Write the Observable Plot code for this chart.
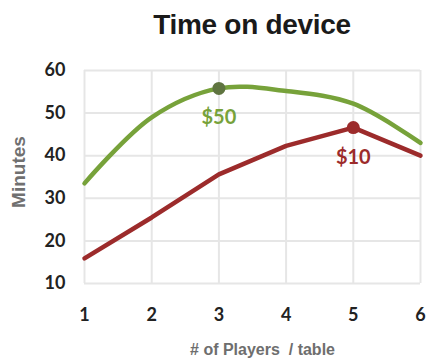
<!DOCTYPE html>
<html><head><meta charset="utf-8">
<script src="https://cdn.jsdelivr.net/npm/d3@7"></script>
<script src="https://cdn.jsdelivr.net/npm/@observablehq/plot@0.6"></script>
<style>
body{margin:0;background:#fff;}
#title{position:relative;height:55px;width:427px;}
#title div{position:absolute;left:84px;width:336px;top:9px;text-align:center;font:bold 28px "Liberation Sans",Arial,sans-serif;color:#1a1a1a;letter-spacing:-0.3px;}
</style></head>
<body>
<div id="title"><div>Time on device</div></div>
<div id="chart"></div>
<script>
const players = [1, 2, 3, 4, 5, 6];
const minutes50 = [33.5, 49, 55.8, 55.2, 52.2, 43];
const minutes10 = [15.9, 25.5, 35.6, 42.3, 46.6, 40];
const yTicks = [10, 20, 30, 40, 50, 60];
const labels = [
  {x: 3, y: 49, text: "$50", series: "$50"},
  {x: 5, y: 39.6, text: "$10", series: "$10"}
];
const highlights = [
  {x: 3, y: 55.8, series: "$50"},
  {x: 5, y: 46.6, series: "$10"}
];
const colors = {"$50": "#77a23a", "$10": "#9c2b2b"};
const markerColors = {"$50": "#5f7440", "$10": "#9c2b2b"};

const d50 = players.map((p, i) => ({x: p, y: minutes50[i]}));
const d10 = players.map((p, i) => ({x: p, y: minutes10[i]}));

const chart = Plot.plot({
  width: 427,
  height: 306,
  marginLeft: 84,
  marginRight: 7,
  marginTop: 15,
  marginBottom: 78,
  style: {fontFamily: "Lato, sans-serif", background: "#fff", overflow: "visible"},
  x: {domain: [1, 6], label: null},
  y: {domain: [10, 60], label: null},
  marks: [
    Plot.gridX(players, {stroke: "#e6e6e6", strokeOpacity: 1, strokeWidth: 2}),
    Plot.gridY(yTicks, {stroke: "#e6e6e6", strokeOpacity: 1, strokeWidth: 2}),
    Plot.axisX({ticks: players, tickFormat: d => String(d), tickSize: 0, tickPadding: 25, fontSize: 18, fontWeight: "bold", fill: "#222", label: null}),
    Plot.axisY({ticks: yTicks, tickSize: 0, tickPadding: 19, fontSize: 18, fontWeight: "bold", fill: "#222", label: null}),
    Plot.lineY(d10, {x: "x", y: "y", stroke: colors["$10"], strokeWidth: 4.5}),
    Plot.lineY(d50, {x: "x", y: "y", stroke: colors["$50"], strokeWidth: 4.5, curve: "catmull-rom"}),
    Plot.dot(highlights, {x: "x", y: "y", r: 6.5, fill: d => markerColors[d.series], stroke: "none"}),
    Plot.text(labels, {x: "x", y: "y", text: "text", fill: d => colors[d.series], fontSize: 20, fontWeight: "bold"}),
    Plot.text(["# of Players  / table"], {frameAnchor: "bottom", textAnchor: "middle", dx: 10, dy: 71, fill: "#6e6e6e", fontSize: 16, fontWeight: "bold", fontFamily: "Liberation Sans, Arial, sans-serif"}),
    Plot.text(["Minutes"], {frameAnchor: "left", textAnchor: "middle", dx: -66, dy: -5, rotate: -90, fill: "#707070", fontSize: 19, fontWeight: "bold", fontFamily: "Liberation Sans, Arial, sans-serif"})
  ]
});
document.getElementById("chart").appendChild(chart);
</script>
</body></html>
